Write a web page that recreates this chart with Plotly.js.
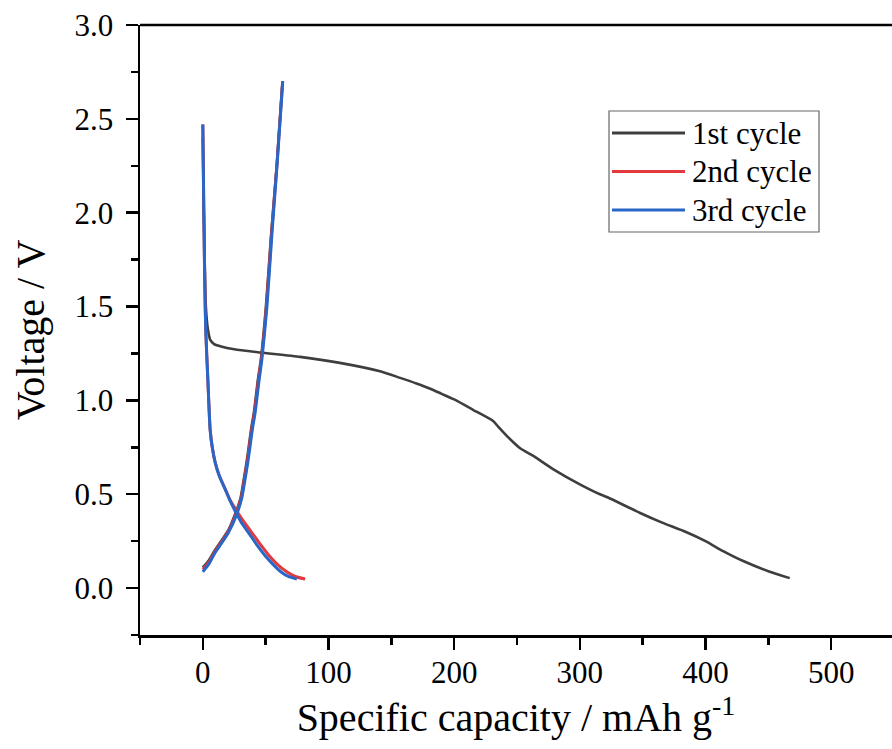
<!DOCTYPE html>
<html>
<head>
<meta charset="utf-8">
<script src="https://cdn.plot.ly/plotly-3.0.1.min.js"></script>
<style>html,body{margin:0;padding:0;overflow:hidden;background:#fff}</style>
</head>
<body>
<div id="chart" style="width:892px;height:749px"></div>
<script>
// 1st cycle (discharge, then charge after the gap)
const cycle1X = [0, 0.8, 1.6, 2.4, 4, 5.8, 9, 13.8, 25, 45.6, 77.4, 109, 141, 157, 170, 181, 190, 200, 215, 231, 235, 242, 252.5, 263, 279, 300, 316, 322, 348, 365, 384, 400, 414, 430, 450, 467,
  null,
  0, 5, 9.8, 15, 20.4, 26, 30, 32.6, 34.8, 36.6, 38.5, 40.6, 43.8, 46.2, 50.2, 54.4, 58.8, 63.4];
const cycle1Y = [2.40, 2.0, 1.7, 1.5, 1.38, 1.324, 1.30, 1.289, 1.272, 1.255, 1.232, 1.20, 1.155, 1.12, 1.09, 1.062, 1.035, 1.005, 0.95, 0.89, 0.86, 0.81, 0.745, 0.704, 0.633, 0.553, 0.50, 0.484, 0.40, 0.35, 0.30, 0.25, 0.197, 0.144, 0.09, 0.053,
  null,
  0.11, 0.15, 0.205, 0.255, 0.31, 0.40, 0.48, 0.58, 0.67, 0.757, 0.85, 0.934, 1.11, 1.22, 1.5, 1.89, 2.25, 2.70];

// 2nd cycle
const cycle2X = [0, 0.8, 1.6, 2.4, 4, 5.8, 7.5, 9.8, 13, 17.7, 22, 28, 33, 38.5, 45.5, 52.5, 59.5, 66.5, 73, 81.4,
  null,
  0, 5, 9.8, 15, 20.4, 26.5, 30.5, 33.1, 35.3, 37.1, 39, 41.1, 44.3, 46.6, 50.6, 54.7, 58.9, 63.5];
const cycle2Y = [2.47, 2.0, 1.6, 1.36, 1.11, 0.846, 0.75, 0.67, 0.60, 0.53, 0.465, 0.40, 0.35, 0.30, 0.235, 0.175, 0.125, 0.088, 0.063, 0.048,
  null,
  0.10, 0.14, 0.197, 0.247, 0.303, 0.397, 0.48, 0.58, 0.67, 0.757, 0.85, 0.934, 1.11, 1.22, 1.5, 1.89, 2.25, 2.70];

// 3rd cycle
const cycle3X = [0, 0.8, 1.6, 2.4, 4, 5.8, 7.5, 9.8, 13, 17.7, 22, 27, 31, 36.3, 43, 49.6, 56, 62.8, 68, 74.8,
  null,
  0, 5, 9.8, 15, 20.4, 27, 31, 33.6, 35.8, 37.6, 39.5, 41.6, 44.8, 47, 51, 55, 59, 63.6];
const cycle3Y = [2.47, 2.0, 1.6, 1.36, 1.11, 0.846, 0.75, 0.67, 0.60, 0.527, 0.46, 0.394, 0.345, 0.296, 0.23, 0.172, 0.125, 0.083, 0.062, 0.048,
  null,
  0.087, 0.13, 0.19, 0.24, 0.296, 0.394, 0.48, 0.58, 0.67, 0.757, 0.85, 0.934, 1.11, 1.22, 1.5, 1.89, 2.25, 2.70];

const seriesNames = ['1st cycle', '2nd cycle', '3rd cycle'];
const seriesColors = ['#3e3e3e', '#e2383e', '#2866c8'];
const xTickVals = [0, 100, 200, 300, 400, 500];
const xTickText = ['0', '100', '200', '300', '400', '500'];
const yTickVals = [0, 0.5, 1, 1.5, 2, 2.5, 3];
const yTickText = ['0.0', '0.5', '1.0', '1.5', '2.0', '2.5', '3.0'];

const FONT = 'Liberation Serif, Times New Roman, serif';

const xs = [cycle1X, cycle2X, cycle3X];
const ys = [cycle1Y, cycle2Y, cycle3Y];
const widths = [2.6, 3, 3];
const traces = seriesNames.map((n, i) => ({
  x: xs[i], y: ys[i], name: n, mode: 'lines', showlegend: false,
  line: {color: seriesColors[i], width: widths[i], shape: 'spline', smoothing: 0.6}
}));

// custom legend (paper coordinates; plot area is 752 x 610 px)
const PW = 752, PH = 610, PL = 140, PB = 635;
const px2x = p => (p - PL) / PW;
const py2y = p => (PB - p) / PH;
const rowY = [133, 171.5, 210];
const shapes = [
  {type: 'line', xref: 'paper', yref: 'paper', x0: 0, x1: 1, y0: 1, y1: 1, line: {color: '#000', width: 2.5}},
  {type: 'rect', xref: 'paper', yref: 'paper', x0: px2x(609), x1: px2x(819), y0: py2y(232), y1: py2y(111),
   line: {color: '#666', width: 1.2}, fillcolor: 'rgba(255,255,255,0)'}
];
const annotations = [];
seriesNames.forEach((n, i) => {
  shapes.push({type: 'line', xref: 'paper', yref: 'paper', x0: px2x(612), x1: px2x(685), y0: py2y(rowY[i]), y1: py2y(rowY[i]),
    line: {color: seriesColors[i], width: 3}});
  annotations.push({xref: 'paper', yref: 'paper', x: px2x(690), y: py2y(rowY[i]), xanchor: 'left', yanchor: 'middle',
    text: n, showarrow: false, font: {family: FONT, size: 31, color: '#000'}});
});

const layout = {
  width: 892, height: 749,
  margin: {l: 140, r: 0, t: 25, b: 114},
  paper_bgcolor: '#fff', plot_bgcolor: '#fff',
  font: {family: FONT, color: '#000', size: 31},
  showlegend: false,
  xaxis: {
    range: [-50, 548.4], showgrid: false, zeroline: false,
    showline: true, linecolor: '#000', linewidth: 2.5,
    ticks: 'outside', ticklen: 12, tickwidth: 2.5, tickcolor: '#000',
    tickvals: xTickVals, ticktext: xTickText,
    tickfont: {family: FONT, size: 31, color: '#000'},
    ticklabelstandoff: -4,
    minor: {tickvals: [-50, 50, 150, 250, 350, 450], ticks: 'outside', ticklen: 7, tickwidth: 2.5, tickcolor: '#000', showgrid: false},
    title: {text: 'Specific capacity / mAh g<sup>-1</sup>', font: {family: FONT, size: 40, color: '#000'}, standoff: 14}
  },
  yaxis: {
    range: [-0.25, 3.0], showgrid: false, zeroline: false,
    showline: true, linecolor: '#000', linewidth: 2.5,
    ticks: 'outside', ticklen: 12, tickwidth: 2.5, tickcolor: '#000',
    tickvals: yTickVals, ticktext: yTickText,
    tickfont: {family: FONT, size: 31, color: '#000'},
    ticklabelstandoff: 6,
    minor: {tickvals: [-0.25, 0.25, 0.75, 1.25, 1.75, 2.25, 2.75], ticks: 'outside', ticklen: 7, tickwidth: 2.5, tickcolor: '#000', showgrid: false},
    title: {text: 'Voltage / V', font: {family: FONT, size: 40, color: '#000'}, standoff: 18}
  },
  shapes: shapes,
  annotations: annotations
};

Plotly.newPlot('chart', traces, layout, {displayModeBar: false, staticPlot: true});
</script>
</body>
</html>
